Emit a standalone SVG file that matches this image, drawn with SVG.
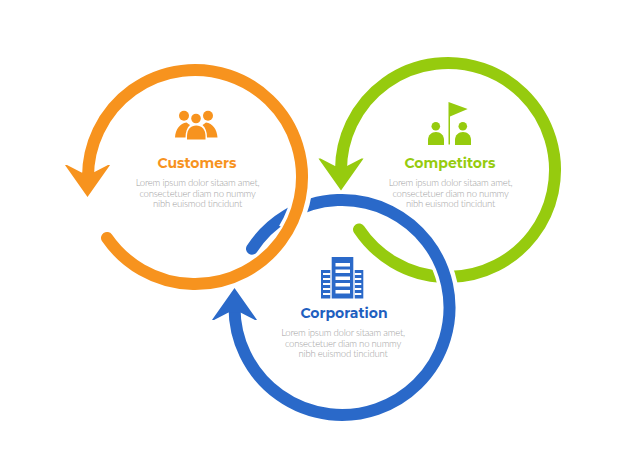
<svg xmlns="http://www.w3.org/2000/svg" xmlns:xlink="http://www.w3.org/1999/xlink" width="626" height="467" viewBox="0 0 626 467">
<style>
.ring{fill:none;stroke-width:12;stroke-linecap:round}
.halo{fill:none;stroke:#fff;stroke-width:20}
.title{font-family:"Montserrat","Open Sans","Liberation Sans",sans-serif;font-size:14px;font-weight:700;text-anchor:middle}
.body{font-family:"Lato","Liberation Sans",sans-serif;font-size:9.6px;font-weight:300;letter-spacing:-.25px;fill:#a2a2a2;text-anchor:middle}
.o{fill:#f7931e}.g{fill:#96cb0e}.b{fill:#2a69c9}
.win{fill:#fff}
</style>
<defs>
<path id="head" d="M0 0L-21.500 -30.500L-22.500 -32L-20.500 -32L-6 -24.500L6 -24.500L20.500 -32L22.500 -32L21.500 -30.500Z"/>
<g id="corp-icon">
<rect x="331.700" y="257" width="21.600" height="41.500"/>
<rect x="321" y="270" width="9.300" height="28.500"/>
<rect x="354.700" y="270" width="8.600" height="28.500"/>
</g>
</defs>
<rect width="626" height="467" fill="#fff"/>
<g id="connectors">
<path class="ring" stroke="#96cb0e" d="M341 170A107 107 0 1 1 359 229.400"/>
<use xlink:href="#head" href="#head" class="g" transform="translate(341 190.500)"/>
<path class="halo" d="M449.200 294.300A108 108 0 0 0 437.400 256.800"/>
<path class="ring" stroke="#2a69c9" d="M234.500 307.500A107.500 107.500 0 1 0 252 248.700"/>
<use xlink:href="#head" href="#head" class="b" transform="translate(234.500 288) rotate(180)"/>
<path class="halo" d="M302 192A108 108 0 0 1 287.700 231"/>
<path class="ring" stroke="#f7931e" d="M88 177A107 107 0 1 1 107 237.900"/>
<use xlink:href="#head" href="#head" class="o" transform="translate(87.500 197)"/>
</g>
<g id="customers">
<g class="o">
<circle cx="184" cy="115.700" r="5"/><circle cx="208" cy="115.700" r="5"/><circle cx="196" cy="118.500" r="4.800"/>
<path d="M175 137.500C175.500 129 180 123.500 186.500 122.500C188 123.500 189 124.500 190 125C187 127.500 185.500 132 185.500 137.500Z"/>
<path d="M217.500 137.500C217 129 212.500 123.500 206 122.500C204.500 123.500 203.500 124.500 202.500 125C205.500 127.500 207 132 207 137.500Z"/>
<path d="M187 139.500V136C187 129.500 191 125.500 196.200 125.500C201.500 125.500 205.500 129.500 205.500 136V139.500Z"/>
</g>
<text class="title o" x="197" y="168">Customers</text>
<text class="body" x="197.500" y="185.500">Lorem ipsum dolor sitaam amet,</text>
<text class="body" x="197.500" y="196.500">consectetuer diam no nummy</text>
<text class="body" x="197.500" y="207">nibh euismod tincidunt</text>
</g>
<g id="competitors">
<g class="g">
<path d="M448.500 102L467.700 109L450 116.500V144.500H448.500Z"/>
<circle cx="435.800" cy="126.300" r="4.300"/><circle cx="462.800" cy="126.300" r="4.300"/>
<path d="M428 145V140C428 135 431.500 132 436 132C440.500 132 444 135 444 140V145Z"/>
<path d="M455 145V140C455 135 458.500 132 463 132C467.500 132 471 135 471 140V145Z"/>
</g>
<text class="title g" x="450" y="168">Competitors</text>
<text class="body" x="450.500" y="185.500">Lorem ipsum dolor sitaam amet,</text>
<text class="body" x="450.500" y="196.500">consectetuer diam no nummy</text>
<text class="body" x="450.500" y="207">nibh euismod tincidunt</text>
</g>
<g id="corporation">
<use xlink:href="#corp-icon" href="#corp-icon" class="b"/>
<g class="win">
<rect x="335.500" y="263" width="14.500" height="3.500"/><rect x="335.500" y="269.500" width="14.500" height="3.500"/><rect x="335.500" y="276.500" width="14.500" height="3.500"/><rect x="335.500" y="283" width="14.500" height="3.500"/><rect x="335.500" y="290" width="14.500" height="3.500"/>
<rect x="323" y="273" width="7.300" height="2"/><rect x="323" y="278" width="7.300" height="2"/><rect x="323" y="283" width="7.300" height="2"/><rect x="323" y="288" width="7.300" height="2"/><rect x="323" y="293" width="7.300" height="2"/>
<rect x="354.700" y="273" width="6.600" height="2"/><rect x="354.700" y="278" width="6.600" height="2"/><rect x="354.700" y="283" width="6.600" height="2"/><rect x="354.700" y="288" width="6.600" height="2"/><rect x="354.700" y="293" width="6.600" height="2"/>
</g>
<text class="title" fill="#1f5fbf" x="344" y="318">Corporation</text>
<text class="body" x="343" y="335.500">Lorem ipsum dolor sitaam amet,</text>
<text class="body" x="343" y="346.500">consectetuer diam no nummy</text>
<text class="body" x="343" y="357">nibh euismod tincidunt</text>
</g>
</svg>
